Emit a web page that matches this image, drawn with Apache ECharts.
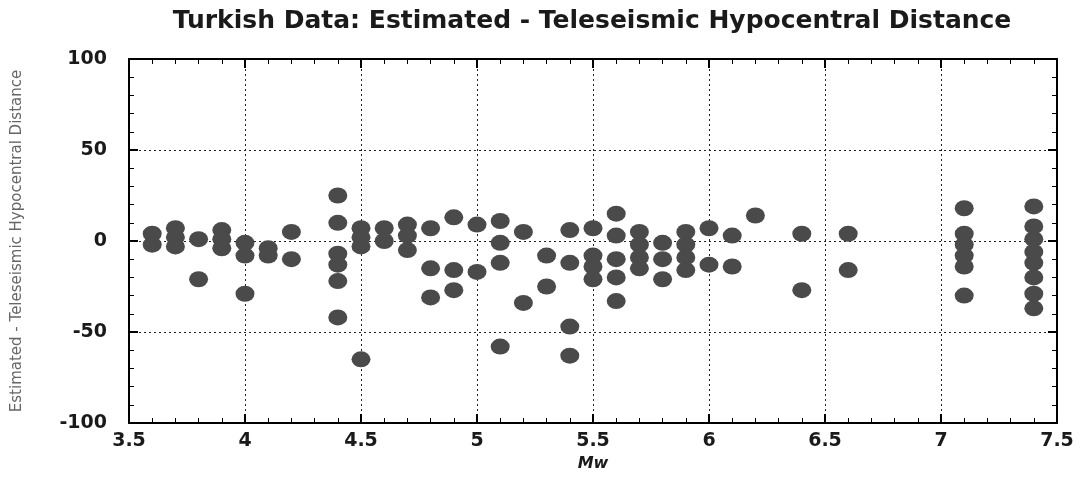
<!DOCTYPE html>
<html>
<head>
<meta charset="utf-8">
<style>
  html, body { margin: 0; padding: 0; background: #fff; }
  #chart { width: 1082px; height: 484px; }
</style>
<script src="https://cdn.jsdelivr.net/npm/echarts@6/dist/echarts.min.js"></script>
</head>
<body>
<div id="chart"></div>
<script>
// Magnitude columns and the distance differences (km) observed at each one
const magnitudes = [3.6, 3.7, 3.8, 3.9, 4.0, 4.1, 4.2, 4.4, 4.5, 4.6, 4.7, 4.8, 4.9, 5.0,
                    5.1, 5.2, 5.3, 5.4, 5.5, 5.6, 5.7, 5.8, 5.9, 6.0, 6.1, 6.2, 6.4, 6.6, 7.1, 7.4];
const residuals = [
  [4, -2],
  [7, 2, -3],
  [1, -21],
  [6, 1, -4],
  [-1, -8, -29],
  [-4, -8],
  [5, -10],
  [25, 10, -7, -13, -22, -42],
  [7, 2, -3, -65],
  [7, 0],
  [9, 3, -5],
  [7, -15, -31],
  [13, -16, -27],
  [9, -17],
  [11, -1, -12, -58],
  [5, -34],
  [-8, -25],
  [6, -12, -47, -63],
  [7, -8, -14, -21],
  [15, 3, -10, -20, -33],
  [5, -2, -9, -15],
  [-1, -10, -21],
  [5, -2, -9, -16],
  [7, -13],
  [3, -14],
  [14],
  [4, -27],
  [4, -16],
  [18, 4, -2, -8, -14, -30],
  [19, 8, 1, -6, -12, -20, -29, -37]
];
const xTicks = [3.5, 4, 4.5, 5, 5.5, 6, 6.5, 7, 7.5];
const yTicks = [-100, -50, 0, 50, 100];

const points = [];
magnitudes.forEach((mw, i) => {
  residuals[i].forEach(v => points.push([mw, v]));
});

const labelFont = {
  fontFamily: 'DejaVu Sans', fontWeight: 'bold', fontSize: 19, color: '#1a1a1a'
};
const gridDash = { color: '#222', width: 1, type: [2, 3] };

const chart = echarts.init(document.getElementById('chart'), null, { renderer: 'canvas' });
chart.setOption({
  backgroundColor: '#ffffff',
  animation: false,
  title: {
    text: 'Turkish Data: Estimated - Teleseismic Hypocentral Distance',
    left: 587, top: 4, textAlign: 'center',
    textStyle: { fontFamily: 'DejaVu Sans', fontWeight: 'bold', fontSize: 25, color: '#1a1a1a' }
  },
  grid: { left: 129, right: 25, top: 59, bottom: 61, containLabel: false },
  xAxis: [{
    type: 'value', min: 3.5, max: 7.5, interval: 0.5,
    name: 'Mw', nameLocation: 'middle', nameGap: 32,
    nameTextStyle: { fontFamily: 'DejaVu Sans', fontWeight: 'bold', fontStyle: 'italic', fontSize: 16, color: '#1a1a1a' },
    axisLine: { show: true, onZero: false, lineStyle: { color: '#000', width: 2 } },
    axisTick: { show: true, inside: true, length: 9, lineStyle: { color: '#000', width: 2 } },
    minorTick: { show: true, splitNumber: 5, length: 5, lineStyle: { color: '#000', width: 1 } },
    axisLabel: Object.assign({ margin: 9, formatter: v => xTicks.includes(v) ? String(v) : '' }, labelFont),
    splitLine: { show: true, lineStyle: gridDash }
  }, {
    type: 'value', min: 3.5, max: 7.5, interval: 0.5, position: 'top',
    axisLine: { show: true, onZero: false, lineStyle: { color: '#000', width: 2 } },
    axisTick: { show: true, inside: true, length: 9, lineStyle: { color: '#000', width: 2 } },
    minorTick: { show: true, splitNumber: 5, length: 5, lineStyle: { color: '#000', width: 1 } },
    axisLabel: { show: false },
    splitLine: { show: false }
  }],
  yAxis: [{
    type: 'value', min: -100, max: 100, interval: 50,
    name: 'Estimated - Teleseismic Hypocentral Distance',
    nameLocation: 'middle', nameGap: 104, nameRotate: 90,
    nameTextStyle: { fontFamily: 'DejaVu Sans', fontSize: 15, color: '#666' },
    axisLine: { show: true, onZero: false, lineStyle: { color: '#000', width: 2 } },
    axisTick: { show: true, inside: true, length: 9, lineStyle: { color: '#000', width: 2 } },
    minorTick: { show: true, splitNumber: 5, length: 5, lineStyle: { color: '#000', width: 1 } },
    axisLabel: Object.assign({ margin: 22, formatter: v => yTicks.includes(v) ? String(v) : '' }, labelFont),
    splitLine: { show: true, lineStyle: gridDash }
  }, {
    type: 'value', min: -100, max: 100, interval: 50, position: 'right',
    axisLine: { show: true, onZero: false, lineStyle: { color: '#000', width: 2 } },
    axisTick: { show: true, inside: true, length: 9, lineStyle: { color: '#000', width: 2 } },
    minorTick: { show: true, splitNumber: 5, length: 5, lineStyle: { color: '#000', width: 1 } },
    axisLabel: { show: false },
    splitLine: { show: false }
  }],
  series: [{
    type: 'scatter',
    xAxisIndex: 0, yAxisIndex: 0,
    data: points,
    symbol: 'circle',
    symbolSize: [19, 16],
    itemStyle: { color: '#4a4a4a', opacity: 1 }
  }]
});
</script>
</body>
</html>
